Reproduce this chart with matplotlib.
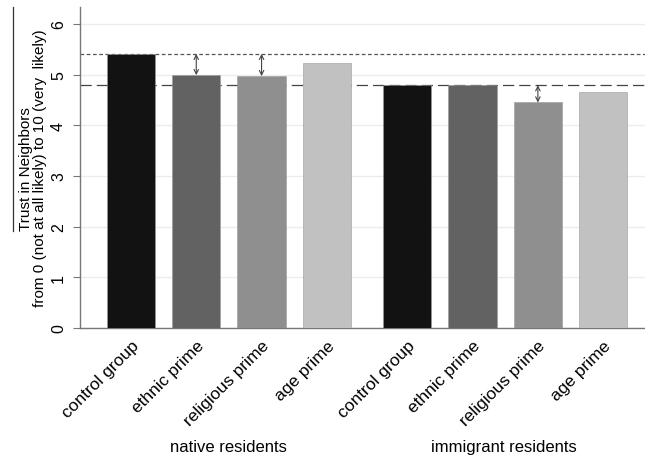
import matplotlib
matplotlib.use('Agg')
import matplotlib.pyplot as plt
from matplotlib.lines import Line2D

plt.rcParams['font.family'] = ['Liberation Sans', 'DejaVu Sans']

categories = ['control group', 'ethnic prime', 'religious prime', 'age prime']
groups = ['native residents', 'immigrant residents']
native = [5.41, 4.99, 4.97, 5.22]
immigrant = [4.79, 4.79, 4.45, 4.65]
bar_colors = ['#121212', '#626262', '#8f8f8f', '#c1c1c1']
yticks = [0, 1, 2, 3, 4, 5, 6]

group_gap = 4.23
xpos_nat = [i for i in range(4)]
xpos_imm = [i + group_gap for i in range(4)]

fig = plt.figure(figsize=(6.45, 4.56), dpi=100)
ax = fig.add_axes([0.124, 0.2785, 0.876, 0.7035])

ax.bar(xpos_nat, native, width=0.74, color=bar_colors, edgecolor='#9a9a9a',
       linewidth=0.4, zorder=3)
ax.bar(xpos_imm, immigrant, width=0.74, color=bar_colors, edgecolor='#9a9a9a',
       linewidth=0.4, zorder=3)

# reference lines for the two control groups
ax.axhline(native[0], color='#555555', linewidth=0.9, linestyle=(0, (3, 2)), zorder=2)
ax.axhline(immigrant[0], color='#444444', linewidth=0.9, linestyle=(0, (9, 4)), zorder=2)

# arrows showing the prime effects
arr = dict(arrowstyle='<->', color='#444444', linewidth=0.8,
           shrinkA=0, shrinkB=0, mutation_scale=8)
for i in [1, 2]:
    ax.annotate('', xy=(xpos_nat[i], native[i]), xytext=(xpos_nat[i], native[0]),
                arrowprops=arr, zorder=4)
ax.annotate('', xy=(xpos_imm[2], immigrant[2]), xytext=(xpos_imm[2], immigrant[0]),
            arrowprops=arr, zorder=4)

ax.set_xlim(-0.78, 7.87)
ax.set_ylim(0, 6.33)
ax.set_yticks(yticks)
ax.set_yticklabels([str(v) for v in yticks], rotation=90, va='center', fontsize=11.5)
ax.yaxis.grid(True, color='#ececec', linewidth=1.0, zorder=0)
ax.set_axisbelow(True)

ax.set_xticks(xpos_nat + xpos_imm)
ax.set_xticklabels(categories + categories, rotation=45, ha='right',
                   rotation_mode='anchor', fontsize=12.5)
ax.tick_params(axis='x', length=0, pad=7)
ax.tick_params(axis='y', length=5, color='#777777', pad=5)

for s in ['top', 'right']:
    ax.spines[s].set_visible(False)
for s in ['left', 'bottom']:
    ax.spines[s].set_color('#777777')
    ax.spines[s].set_linewidth(1.0)

ax.set_ylabel('Trust in Neighbors\nfrom 0 (not at all likely) to 10 (very  likely)',
              fontsize=11, labelpad=3, linespacing=1.0)

fig.text(228 / 645, 1 - 452 / 456, groups[0], ha='center', va='baseline', fontsize=12)
fig.text(504 / 645, 1 - 452 / 456, groups[1], ha='center', va='baseline', fontsize=12)

fig.add_artist(Line2D([13 / 645, 13 / 645], [1 - 8 / 456, 1 - 232 / 456],
                      color='#333333', linewidth=0.9))

fig.savefig('out.png', dpi=100)
